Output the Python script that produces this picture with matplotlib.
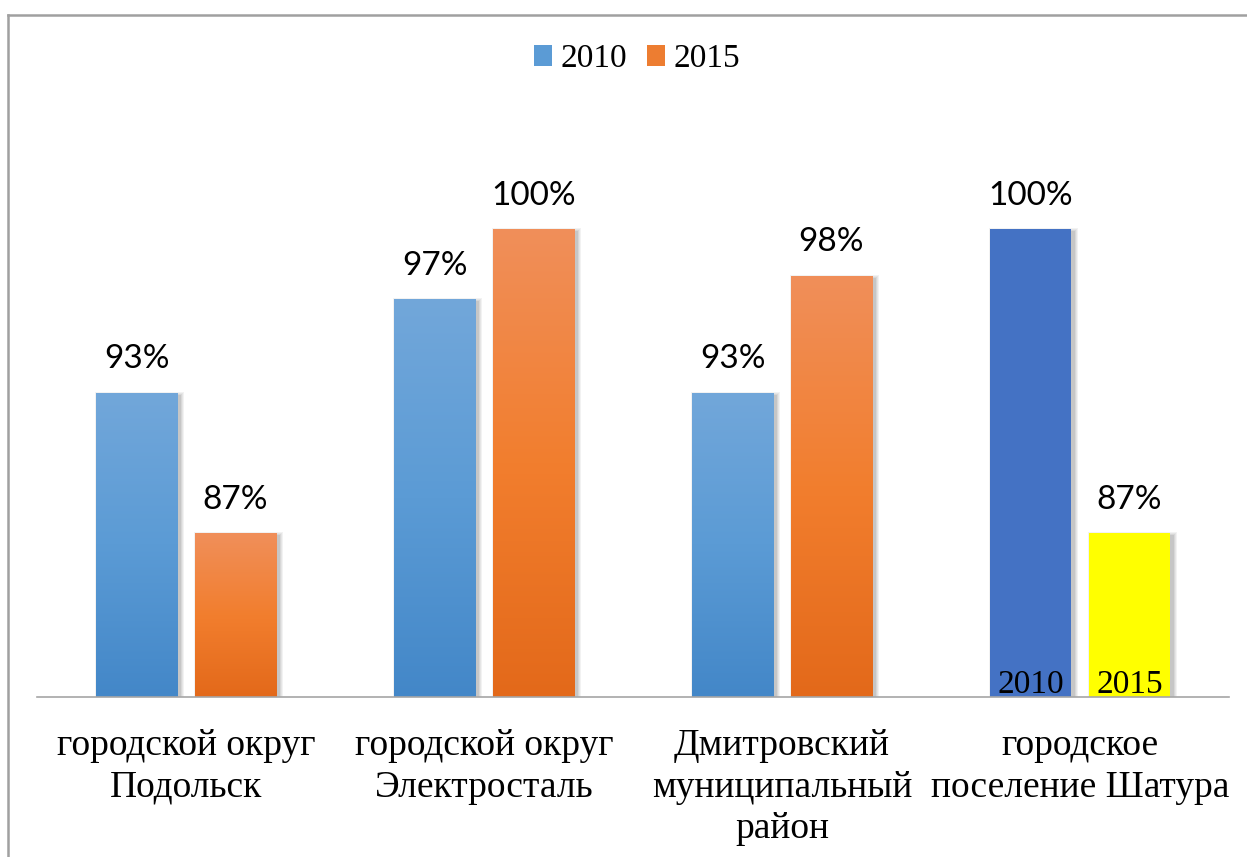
import numpy as np
import matplotlib
matplotlib.use("Agg")
import matplotlib.pyplot as plt
from matplotlib.colors import LinearSegmentedColormap
from matplotlib.lines import Line2D
from matplotlib.patches import Patch

categories = ["городской округ\nПодольск", "городской округ\nЭлектросталь",
              "Дмитровский\nмуниципальный\nрайон", "городское\nпоселение Шатура"]
series = ["2010", "2015"]
values_2010 = [93, 97, 93, 100]
values_2015 = [87, 100, 98, 87]

W, H = 1247, 857
fig = plt.figure(figsize=(W / 100, H / 100), dpi=100)
ax_left, ax_right = 37 / W, 1229 / W
ax_bottom = (H - 697) / H
ax_top = (H - 112) / H
ax = fig.add_axes([ax_left, ax_bottom, ax_right - ax_left, ax_top - ax_bottom])

ymin, ymax = 80, 105
ax.set_xlim(-0.5, len(categories) - 0.5)
ax.set_ylim(ymin, ymax)

width = 0.272
offset = 0.166
x = np.arange(len(categories))

blue_cmap = LinearSegmentedColormap.from_list("b", ["#4387C8", "#5B9BD5", "#72A7DA"])
orange_cmap = LinearSegmentedColormap.from_list("o", ["#E3691A", "#F27E2E", "#F08F5A"])
grad = np.linspace(0, 1, 256).reshape(-1, 1)

def shadow(xc, h):
    px = 1.0 / 298
    py = 25.0 / (697 - 112)
    for i, a in enumerate([0.10, 0.10, 0.12, 0.15]):
        d = 4 - i
        ax.bar(xc + 3 * px, h - ymin + 2 * d * py, width=width + 2 * d * px,
               bottom=ymin - (d + 3) * py, color="#000000", alpha=a * 0.5,
               zorder=1, linewidth=0)

def grad_bar(xc, h, cmap):
    shadow(xc, h)
    b = ax.bar(xc, h - ymin, width=width, bottom=ymin, color="none",
               linewidth=0, zorder=3)[0]
    im = ax.imshow(grad, cmap=cmap, origin="lower", aspect="auto",
                   extent=(xc - width / 2, xc + width / 2, ymin, h), zorder=2)
    im.set_clip_path(b)
    return b

def solid_bar(xc, h, color):
    shadow(xc, h)
    return ax.bar(xc, h - ymin, width=width, bottom=ymin, color=color,
                  linewidth=0, zorder=2)[0]

pct_font = dict(family=["Lato", "DejaVu Sans"], fontsize=24, color="black")
serif = ["Liberation Serif", "DejaVu Serif"]

for i in range(len(categories)):
    v1, v2 = values_2010[i], values_2015[i]
    if i < 3:
        grad_bar(x[i] - offset, v1, blue_cmap)
        grad_bar(x[i] + offset, v2, orange_cmap)
    else:
        solid_bar(x[i] - offset, v1, "#4472C4")
        solid_bar(x[i] + offset, v2, "#FFFF00")
        for xc, s in [(x[i] - offset, series[0]), (x[i] + offset, series[1])]:
            ax.annotate(s, xy=(xc, ymin), xytext=(0, 9), textcoords="offset points",
                        ha="center", va="center", family=serif, fontsize=24,
                        color="black", zorder=5)
    for xc, v in [(x[i] - offset, v1), (x[i] + offset, v2)]:
        ax.annotate(f"{v}%", xy=(xc, v), xytext=(0, 24), textcoords="offset points",
                    ha="center", va="center", zorder=5, **pct_font)
    ax.annotate(categories[i], xy=(x[i], 0), xycoords=("data", "axes fraction"),
                xytext=(0, -23), textcoords="offset points", ha="center", va="top",
                multialignment="center", family=serif, fontsize=27, linespacing=1.25,
                color="black", annotation_clip=False)

for s in ["top", "right", "left"]:
    ax.spines[s].set_visible(False)
ax.spines["bottom"].set_color("#A6A6A6")
ax.spines["bottom"].set_linewidth(1.2)
ax.spines["bottom"].set_zorder(4)
ax.set_xticks([])
ax.set_yticks([])
ax.patch.set_alpha(0)

handles = [Patch(facecolor="#5B9BD5", label=series[0]), Patch(facecolor="#ED7D31", label=series[1])]
fig.legend(handles=handles, loc="center", bbox_to_anchor=(637 / W, 1 - 59 / H),
           ncol=2, frameon=False, prop={"family": serif, "size": 24},
           handlelength=0.55, handleheight=0.55, handletextpad=0.25, columnspacing=0.6,
           borderpad=0, borderaxespad=0)

fig.add_artist(Line2D([7.5 / W, 7.5 / W], [0, 1 - 15 / H], color="#A0A0A0", lw=1.8,
                      transform=fig.transFigure))
fig.add_artist(Line2D([7.5 / W, 1], [1 - 15 / H, 1 - 15 / H], color="#A0A0A0", lw=1.8,
                      transform=fig.transFigure))

fig.savefig("out.png", dpi=100)
